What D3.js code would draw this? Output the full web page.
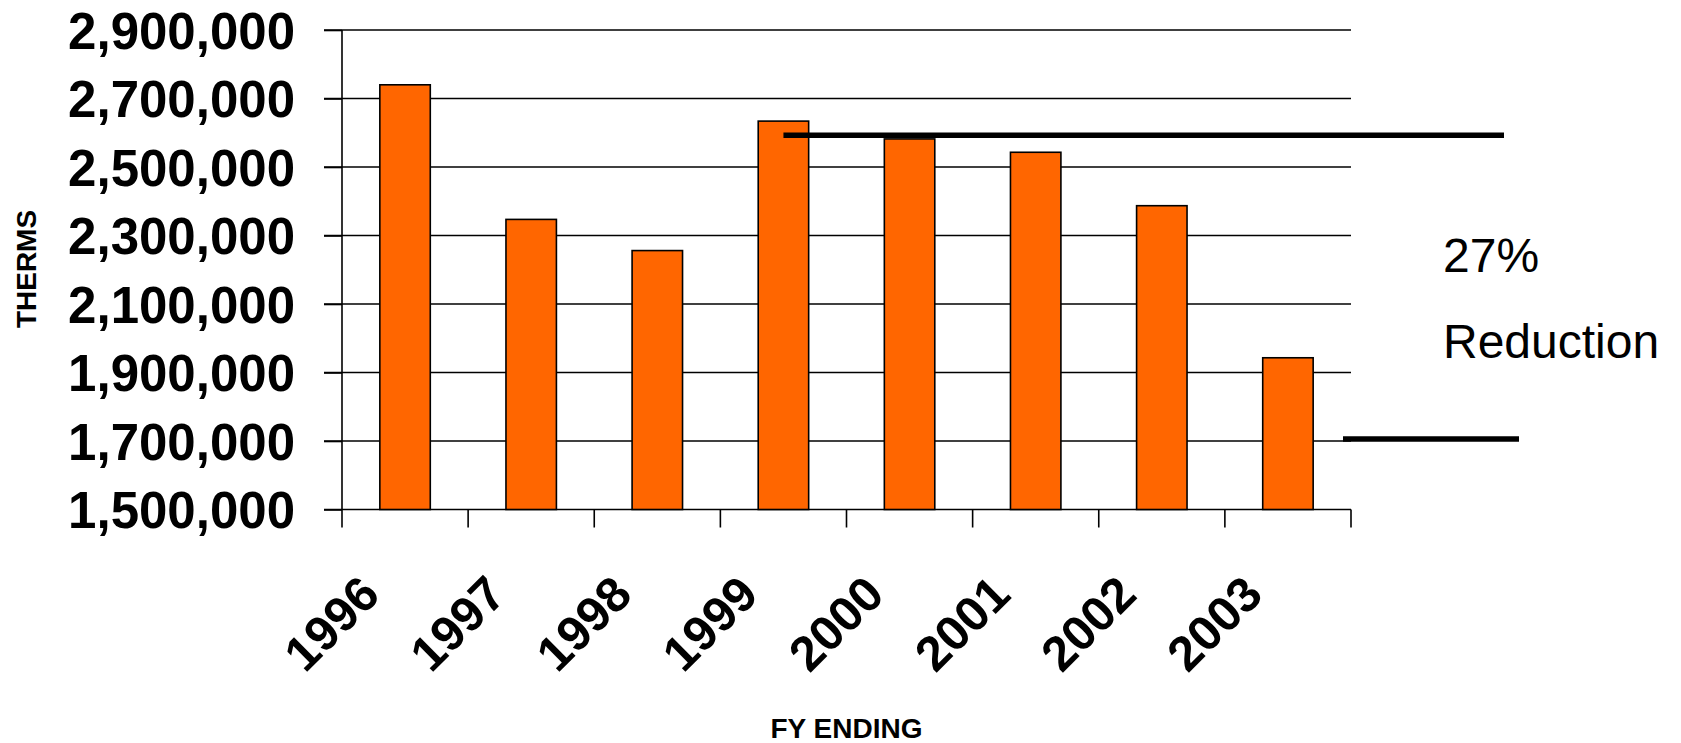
<!DOCTYPE html>
<html>
<head>
<meta charset="utf-8">
<script src="https://cdn.jsdelivr.net/npm/d3@7"></script>
<style>
  html, body { margin: 0; padding: 0; background: #fff; }
  svg { display: block; font-family: "Liberation Sans", Arial, sans-serif; }
</style>
</head>
<body>
<svg id="chart" width="1681" height="743"></svg>
<script>
// Annual gas use, in therms, by fiscal year
const years = ["1996", "1997", "1998", "1999", "2000", "2001", "2002", "2003"];
const therms = [2740000, 2347000, 2256000, 2634000, 2582000, 2543000, 2387000, 1943000];
const yTicks = [1500000, 1700000, 1900000, 2100000, 2300000, 2500000, 2700000, 2900000];

// Bracket marking the drop from the 1999 level to the 2003 level
const bracketLevels = [2593000, 1706000];
const bracketText = ["27%", "Reduction"];

(function draw() {
  const svg = d3.select("#chart");
  const plotLeft = 342, plotRight = 1351, plotTop = 30, plotBottom = 509.5;
  const tickLen = 18;

  const x = d3.scaleBand().domain(years).range([plotLeft, plotRight])
    .paddingInner(0.6).paddingOuter(0.3);
  const y = d3.scaleLinear().domain([1500000, 2900000]).range([plotBottom, plotTop]);
  const step = x.step();
  const fmt = d3.format(",");

  // Horizontal gridlines (extend across the tick stubs on the left)
  svg.append("g").selectAll("line").data(yTicks).join("line")
    .attr("x1", plotLeft - tickLen).attr("x2", plotRight)
    .attr("y1", d => y(d)).attr("y2", d => y(d))
    .attr("stroke", "#000").attr("stroke-width", 1.6);

  // Y axis
  const yAxis = svg.append("g").attr("transform", `translate(${plotLeft},0)`)
    .call(d3.axisLeft(y).tickValues(yTicks).tickFormat(fmt)
      .tickSize(tickLen).tickSizeOuter(0).tickPadding(29));
  yAxis.select(".domain").attr("stroke", "#000").attr("stroke-width", 1.6)
    .attr("d", `M0,${plotTop}V${plotBottom + tickLen}`);
  yAxis.selectAll(".tick line").attr("stroke", "#000").attr("stroke-width", 1.6);
  yAxis.selectAll(".tick text")
    .attr("font-family", "Liberation Sans, Arial, sans-serif")
    .attr("font-size", 51).attr("font-weight", "bold").attr("fill", "#000")
    .attr("dy", "0.358em");

  // Category boundary ticks below the baseline
  const bounds = years.slice(1).map(d => x(d) - step * x.paddingInner() / 2);
  bounds.push(plotRight);
  svg.append("g").selectAll("line").data(bounds).join("line")
    .attr("x1", d => d).attr("x2", d => d)
    .attr("y1", plotBottom).attr("y2", plotBottom + tickLen)
    .attr("stroke", "#000").attr("stroke-width", 1.6);

  // Bars
  svg.append("g").selectAll("rect").data(years).join("rect")
    .attr("x", d => x(d))
    .attr("width", x.bandwidth())
    .attr("y", (d, i) => y(therms[i]))
    .attr("height", (d, i) => plotBottom - y(therms[i]))
    .attr("fill", "#FF6600").attr("stroke", "#000").attr("stroke-width", 1.6);

  // Category labels, rotated 45 degrees
  svg.append("g").selectAll("text").data(years).join("text")
    .attr("transform", d => `translate(${x(d) + x.bandwidth() / 2 - 23},597) rotate(-45)`)
    .attr("text-anchor", "end")
    .attr("font-size", 49).attr("font-weight", "bold").attr("fill", "#000")
    .text(d => d);

  // Axis titles
  svg.append("text")
    .attr("transform", "translate(36,269) rotate(-90)")
    .attr("text-anchor", "middle")
    .attr("font-size", 28).attr("font-weight", "bold")
    .text("THERMS");
  svg.append("text")
    .attr("x", (plotLeft + plotRight) / 2).attr("y", 738)
    .attr("text-anchor", "middle")
    .attr("font-size", 28).attr("font-weight", "bold")
    .text("FY ENDING");

  // Reduction bracket lines
  const bracketX = [
    [x("1999") + x.bandwidth() / 2, plotRight + 153],
    [plotRight - 8, plotRight + 168]
  ];
  svg.append("g").selectAll("line").data(bracketLevels).join("line")
    .attr("x1", (d, i) => bracketX[i][0]).attr("x2", (d, i) => bracketX[i][1])
    .attr("y1", d => y(d)).attr("y2", d => y(d))
    .attr("stroke", "#000").attr("stroke-width", 5.5);

  svg.append("g").selectAll("text").data(bracketText).join("text")
    .attr("x", 1443).attr("y", (d, i) => 272 + i * 86)
    .attr("font-size", 48).attr("fill", "#000")
    .text(d => d);
})();
</script>
</body>
</html>
